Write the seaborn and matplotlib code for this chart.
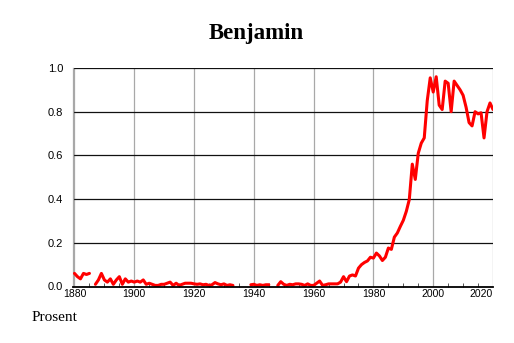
import numpy as np
import pandas as pd
import matplotlib
matplotlib.use("Agg")
import matplotlib.pyplot as plt
import seaborn as sns

title = "Benjamin"
ylabel_text = "Prosent"
years = list(range(1880, 2021))
nan = np.nan
values = (
    [0.06, 0.045, 0.035, 0.06, 0.055, 0.06]                      # 1880-1885
    + [nan]                                                       # 1886
    + [0.01, 0.03, 0.06, 0.03, 0.02, 0.035, 0.01, 0.03, 0.045,
       0.01, 0.035, 0.02, 0.025]                                  # 1887-1899
    + [0.02, 0.025, 0.02, 0.03, 0.01, 0.015, 0.01, 0.005, 0.005, 0.01]
    + [0.01, 0.015, 0.02, 0.005, 0.015, 0.005, 0.01, 0.015, 0.015, 0.015]
    + [0.012, 0.01, 0.012, 0.008, 0.01, 0.005, 0.008, 0.018, 0.012, 0.008]
    + [0.012, 0.005, 0.008, 0.005]                                # 1930-1933
    + [nan] * 5                                                   # 1934-1938
    + [0.008]                                                     # 1939
    + [0.01, 0.005, 0.008, 0.005, 0.008, 0.008]                   # 1940-1945
    + [nan, nan]                                                  # 1946-1947
    + [0.005, 0.022]                                              # 1948-1949
    + [0.01, 0.005, 0.01, 0.008, 0.012, 0.012, 0.01, 0.005, 0.012, 0.005]
    + [0.005, 0.015, 0.025, 0.005, 0.008, 0.012, 0.012, 0.012, 0.012, 0.02]
    + [0.045, 0.022, 0.048, 0.053, 0.048, 0.084, 0.1, 0.11, 0.117, 0.134]
    + [0.13, 0.153, 0.14, 0.119, 0.134, 0.176, 0.17, 0.226, 0.245, 0.275]
    + [0.303, 0.344, 0.398, 0.56, 0.49, 0.61, 0.656, 0.68, 0.85, 0.955]
    + [0.89, 0.96, 0.83, 0.81, 0.94, 0.93, 0.80, 0.94, 0.92, 0.90]
    + [0.875, 0.82, 0.75, 0.735, 0.80, 0.79, 0.795, 0.68, 0.80, 0.84, 0.81]
)
xticks = [1880, 1900, 1920, 1940, 1960, 1980, 2000, 2020]
yticks = [0.0, 0.2, 0.4, 0.6, 0.8, 1.0]

df = pd.DataFrame({"year": years, "value": values})
df["seg"] = df["value"].isna().cumsum()
df = df.dropna()

sns.set_theme(style="white")
plt.rcParams["font.family"] = ["Liberation Sans", "DejaVu Sans"]
plt.rcParams["text.color"] = "black"

fig = plt.figure(figsize=(5.14, 3.43), dpi=100)
ax = fig.add_axes([72.7 / 514, 1 - 286.5 / 343, (493 - 72.7) / 514, (286.5 - 68) / 343])

for x in xticks:
    ax.axvline(x, color="#a8a8a8", lw=0.9, zorder=1)
for y in yticks[1:]:
    ax.axhline(y, color="#111111", lw=0.9, zorder=1)

sns.lineplot(data=df, x="year", y="value", units="seg", estimator=None,
             color="#ff0000", lw=2.2, ax=ax, zorder=3, legend=False)

ax.set_xlim(1879.4, 2020)
ax.set_ylim(0, 1.0)
ax.set_xticks(xticks)
ax.set_xticks(list(range(1885, 2020, 5)), minor=True)
ax.set_yticks(yticks)
ax.set_yticklabels([f"{v:.1f}" for v in yticks], fontsize=8, color="black")
labels = ax.set_xticklabels([str(v) for v in xticks], fontsize=7.5, color="black")
labels[-1].set_horizontalalignment("right")
ax.tick_params(axis="x", which="major", length=0, pad=2)
ax.tick_params(axis="x", which="minor", direction="in", length=3, width=0.7,
               color="#555555", bottom=True)
ax.tick_params(axis="y", length=0, pad=7)
ax.set_xlabel("")
ax.set_ylabel("")

for s in ["top", "right"]:
    ax.spines[s].set_visible(False)
ax.spines["left"].set_color("#a8a8a8")
ax.spines["left"].set_linewidth(0.9)
ax.spines["bottom"].set_color("#000000")
ax.spines["bottom"].set_linewidth(1.3)
ax.spines["bottom"].set_zorder(4)

fig.text(256 / 514, 1 - 33 / 343, title, ha="center", va="center", color="black",
         fontsize=16.5, fontweight="bold", family=["Liberation Serif", "DejaVu Serif"])
fig.text(31.7 / 514, 1 - 320.7 / 343, ylabel_text, ha="left", va="baseline",
         color="black", fontsize=11, family=["Liberation Serif", "DejaVu Serif"])

fig.savefig("out.png", dpi=100)
